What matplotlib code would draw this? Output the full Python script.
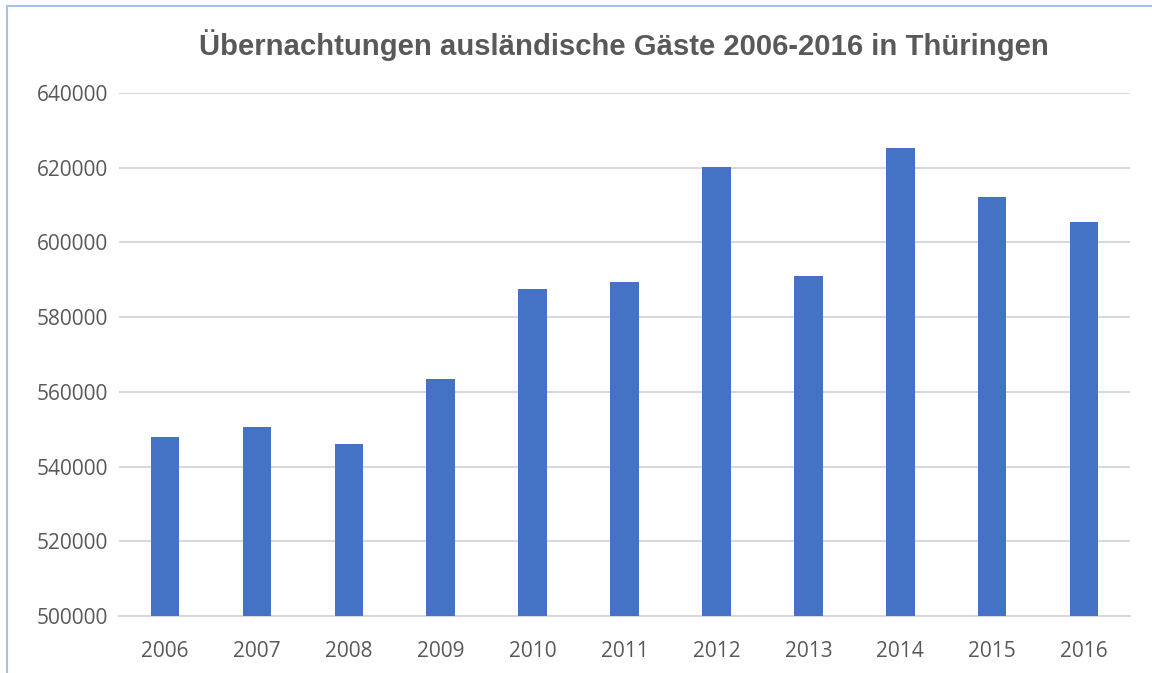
import matplotlib.pyplot as plt
from matplotlib.lines import Line2D

# Übernachtungen ausländischer Gäste in Thüringen
jahre = ['2006', '2007', '2008', '2009', '2010', '2011',
         '2012', '2013', '2014', '2015', '2016']
werte = [548000, 550600, 546000, 563500, 587600, 589500,
         620200, 591000, 625300, 612200, 605400]

grau = '#595959'

fig = plt.figure(figsize=(11.52, 6.73), dpi=100)
ax = fig.add_axes([0.1033, 0.0847, 0.8777, 0.7771])

ax.bar(range(len(jahre)), werte, width=0.31, color='#4472C4', zorder=3)

ax.set_xlim(-0.5, len(jahre) - 0.5)
ax.set_ylim(500000, 640000)
ax.set_yticks(range(500000, 640001, 20000))
ax.set_xticks(range(len(jahre)))
ax.set_xticklabels(jahre)

ax.grid(axis='y', color='#D9D9D9', linewidth=1.5, zorder=0)
for s in ['top', 'right', 'left']:
    ax.spines[s].set_visible(False)
ax.spines['bottom'].set_color('#D9D9D9')
ax.spines['bottom'].set_linewidth(1.5)
ax.tick_params(length=0, labelsize=15, labelcolor=grau, pad=18)
for lab in ax.get_xticklabels() + ax.get_yticklabels():
    lab.set_fontfamily('Open Sans')
ax.tick_params(axis='y', pad=8)

fig.text(0.5417, 0.933, 'Übernachtungen ausländische Gäste 2006-2016 in Thüringen',
         ha='center', va='center', fontsize=21.1, fontweight='bold',
         color=grau, family=['Liberation Sans', 'DejaVu Sans'])

# Rahmen links und oben
fig.add_artist(Line2D([0.0065, 0.0065], [0, 0.991], color='#A9C1E8', linewidth=1.5))
fig.add_artist(Line2D([0.0065, 1], [0.991, 0.991], color='#A9C1E8', linewidth=1.5))

fig.savefig('out.png')
